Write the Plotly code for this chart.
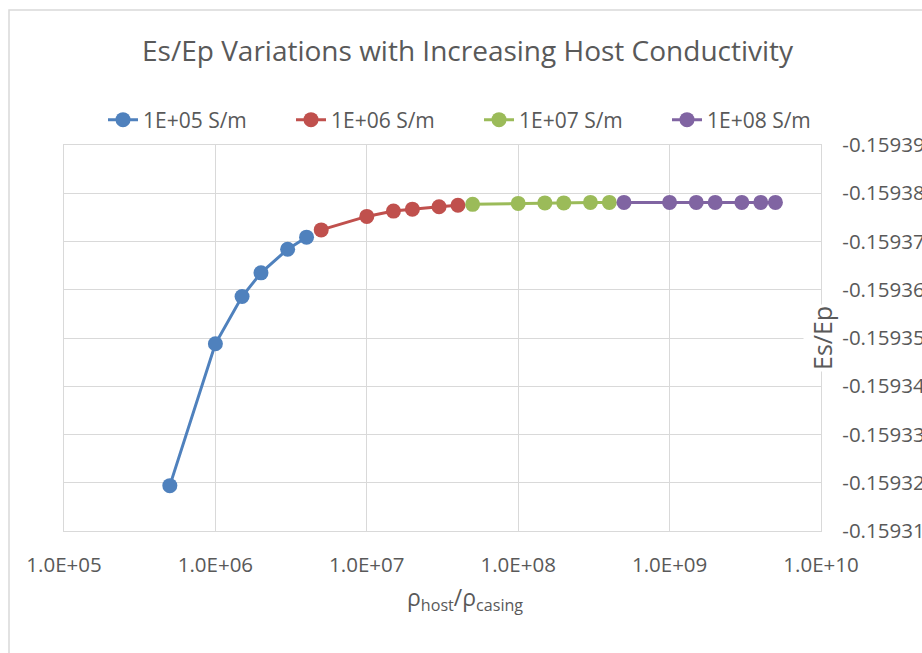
import plotly.graph_objects as go

# ---- data ----
x_1e5 = [5e5, 1e6, 1.5e6, 2e6, 3e6, 4e6]
y_1e5 = [-0.1593194, -0.1593488, -0.1593586, -0.1593635, -0.1593684, -0.1593709]
x_1e6 = [5e6, 1e7, 1.5e7, 2e7, 3e7, 4e7]
y_1e6 = [-0.1593724, -0.1593752, -0.1593763, -0.1593767, -0.1593772, -0.1593775]
x_1e7 = [5e7, 1e8, 1.5e8, 2e8, 3e8, 4e8]
y_1e7 = [-0.1593777, -0.1593779, -0.1593780, -0.1593780, -0.1593781, -0.1593781]
x_1e8 = [5e8, 1e9, 1.5e9, 2e9, 3e9, 4e9, 5e9]
y_1e8 = [-0.1593781, -0.1593781, -0.1593781, -0.1593781, -0.1593781, -0.1593781, -0.1593781]

series_names = ["1E+05 S/m", "1E+06 S/m", "1E+07 S/m", "1E+08 S/m"]
series_colors = ["#4F81BD", "#C0504D", "#9BBB59", "#8064A2"]

x_tickvals = [1e5, 1e6, 1e7, 1e8, 1e9, 1e10]
x_ticktext = ["1.0E+05", "1.0E+06", "1.0E+07", "1.0E+08", "1.0E+09", "1.0E+10"]
y_tickvals = [-0.15939, -0.15938, -0.15937, -0.15936, -0.15935, -0.15934, -0.15933, -0.15932, -0.15931]
y_ticktext = ["-0.15939", "-0.15938", "-0.15937", "-0.15936", "-0.15935", "-0.15934", "-0.15933", "-0.15932", "-0.15931"]

TXT = "#595959"
GRID = "#D9D9D9"
FONT = "Open Sans"

fig = go.Figure()
for xs, ys, name, col in zip([x_1e5, x_1e6, x_1e7, x_1e8],
                             [y_1e5, y_1e6, y_1e7, y_1e8],
                             series_names, series_colors):
    fig.add_trace(go.Scatter(x=xs, y=ys, name=name, mode="lines+markers",
                             line=dict(color=col, width=3),
                             marker=dict(color=col, size=15)))

L, R, T, B = 64, 101, 145, 122
W, H = 922, 653
pw, ph = W - L - R, H - T - B
def px(xp): return (xp - L) / pw
def py(yp): return (H - B - yp) / ph

fig.update_layout(
    width=W, height=H,
    margin=dict(l=L, r=R, t=T, b=B, autoexpand=False),
    paper_bgcolor="white", plot_bgcolor="white",
    font=dict(family=FONT, color=TXT, size=18),
    showlegend=True,
    legend=dict(orientation="h", x=px(103), xanchor="left", y=py(120), yanchor="middle",
                font=dict(size=21, color=TXT), itemwidth=30, bgcolor="rgba(0,0,0,0)",
                entrywidth=143, entrywidthmode="pixels"),
    xaxis=dict(type="log", range=[5, 10], tickvals=x_tickvals, ticktext=x_ticktext,
               showgrid=True, gridcolor=GRID, gridwidth=1.4, zeroline=False,
               showline=True, linecolor=GRID, linewidth=1.4, mirror=True,
               ticks="", tickfont=dict(size=20.5, color=TXT), ticklabelstandoff=15),
    yaxis=dict(range=[-0.15931, -0.15939], side="right", tickvals=y_tickvals, ticktext=y_ticktext,
               showgrid=True, gridcolor=GRID, gridwidth=1.4, zeroline=False,
               showline=True, linecolor=GRID, linewidth=1.4, mirror=True,
               ticks="", tickfont=dict(size=20.5, color=TXT), ticklabelstandoff=16),
    shapes=[dict(type="rect", xref="paper", yref="paper",
                 x0=px(9), x1=px(940), y0=py(670), y1=py(10),
                 line=dict(color=GRID, width=1.5), fillcolor="rgba(0,0,0,0)", layer="below")],
    annotations=[
        dict(text="Es/Ep Variations with Increasing Host Conductivity", xref="paper", yref="paper",
             x=px(468), y=py(50), showarrow=False, xanchor="center", yanchor="middle",
             font=dict(size=28, color=TXT)),
        dict(text="ρ<sub>host</sub>/ρ<sub>casing</sub>", xref="paper", yref="paper",
             x=px(465), y=py(598), showarrow=False, xanchor="center", yanchor="middle",
             font=dict(size=23, color=TXT)),
        dict(text="Es/Ep", xref="paper", yref="paper", textangle=-90,
             x=px(822), y=py(338), showarrow=False, xanchor="center", yanchor="middle",
             font=dict(size=25, color=TXT), bgcolor="white"),
    ],
)

fig.write_html("out.html")
